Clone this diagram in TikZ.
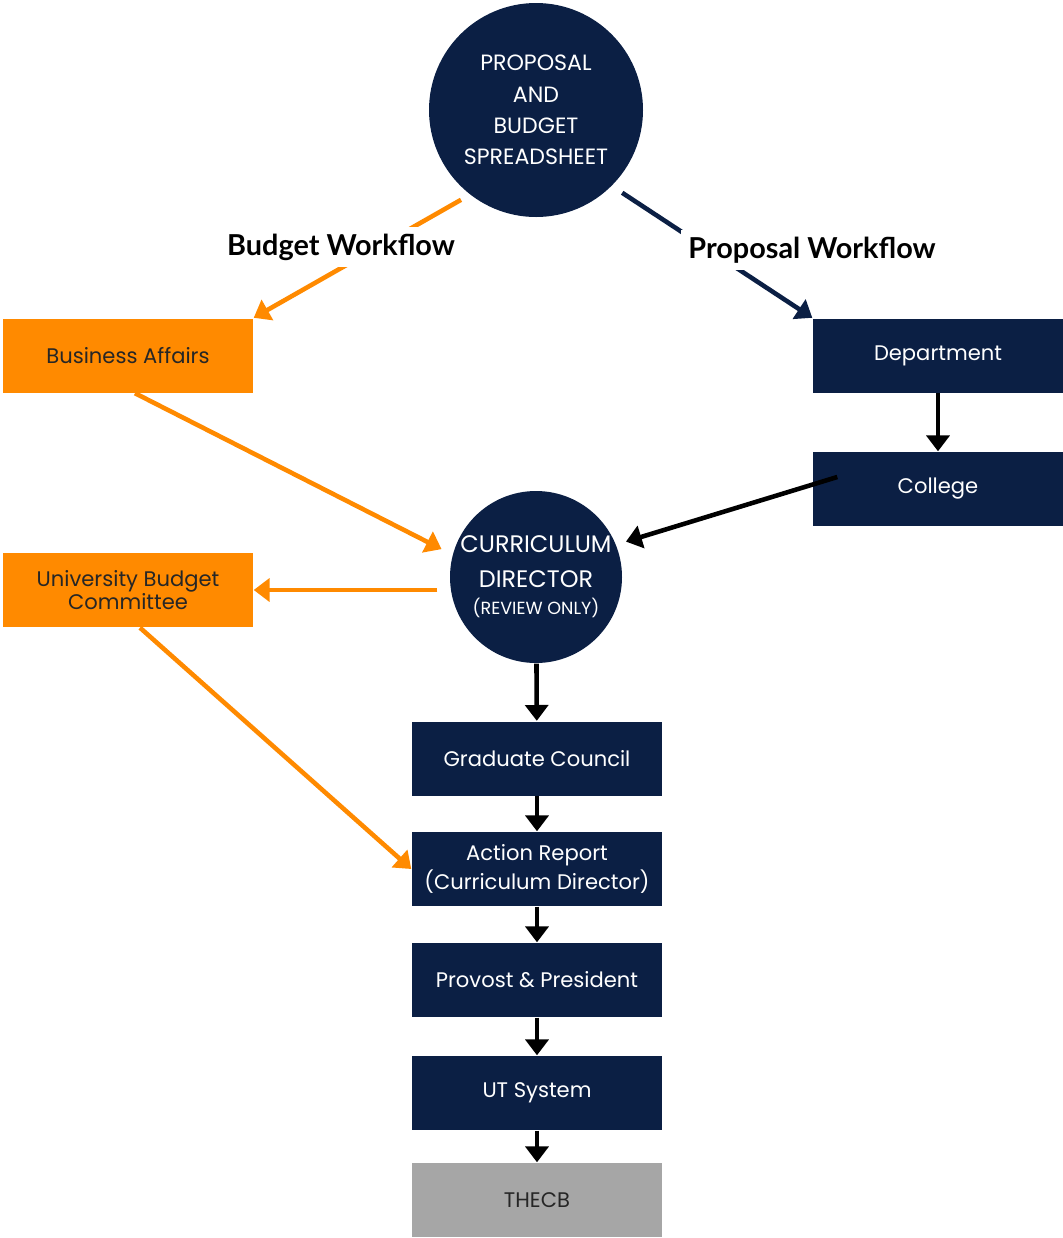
\documentclass[tikz,border=0pt]{standalone}
\usepackage{fontspec}
\setmainfont{Poppins}
\newfontfamily\headfont{Lato}
\usetikzlibrary{arrows.meta}
\definecolor{navy}{HTML}{0B1F44}
\definecolor{budgetorange}{HTML}{FF8A00}
\definecolor{thecbgray}{HTML}{A6A6A6}
\tikzset{
    stagebox/.style={fill=navy, text=white, minimum width=2.5cm, minimum height=0.74cm, inner sep=0pt, align=center, font=\fontsize{6}{6.6}\selectfont},
    budgetbox/.style={stagebox, fill=budgetorange, text=black!85},
    stagecirc/.style={circle, fill=navy, text=white, inner sep=0pt, align=center},
    flow/.style={line width=1.3pt, -{Triangle[length=4.5pt,width=6.5pt]}},
    budgetflow/.style={flow, budgetorange},
    workflowlbl/.style={fill=white, inner sep=2pt, font=\headfont\bfseries\fontsize{8.2}{10}\selectfont}
}
\begin{document}
\begin{tikzpicture}
    \useasboundingbox (0,0) rectangle (10.63,-12.38);
    % circles
    \node[stagecirc, minimum size=2.14cm, font=\fontsize{6.3}{8.9}\selectfont] (proposal) at (5.36,-1.10) {PROPOSAL\\AND\\BUDGET\\SPREADSHEET};
    \node[stagecirc, minimum size=1.72cm, font=\fontsize{6.8}{9.8}\selectfont] (curriculum) at (5.36,-5.77) {CURRICULUM\\DIRECTOR\\[-2pt]{\fontsize{5}{6}\selectfont (REVIEW ONLY)}};
    % boxes
    \node[budgetbox] (business) at (1.28,-3.555) {Business Affairs};
    \node[budgetbox] (ubc) at (1.28,-5.90) {University Budget\\Committee};
    \node[stagebox] (department) at (9.38,-3.555) {Department};
    \node[stagebox] (college) at (9.38,-4.89) {College};
    \node[stagebox] (grad) at (5.37,-7.585) {Graduate Council};
    \node[stagebox] (action) at (5.37,-8.69) {Action Report\\(Curriculum Director)};
    \node[stagebox] (provost) at (5.37,-9.80) {Provost \& President};
    \node[stagebox] (utsys) at (5.37,-10.93) {UT System};
    \node[stagebox, fill=thecbgray, text=black!85] (thecb) at (5.37,-12.0) {THECB};
    % budget workflow
    \draw[budgetflow, shorten <=0.1cm] (proposal.232) -- (business.north east);
    \node[workflowlbl] (budgetlbl) at (3.41,-2.47) {Budget Workflow};
    \draw[budgetflow, shorten >=0.12cm] ([xshift=0.07cm]business.south) -- (curriculum.165);
    \draw[budgetflow, shorten <=0.12cm] (curriculum.west |- ubc.east) -- (ubc.east);
    \draw[budgetflow] ([xshift=0.12cm]ubc.south) -- (action.west);
    % proposal workflow
    \draw[flow, navy, shorten <=0.12cm] (proposal.315) -- (department.north west);
    \node[workflowlbl] (proposallbl) at (8.12,-2.50) {Proposal Workflow};
    \draw[flow] (department) -- (college);
    \draw[flow, shorten >=0.1cm] ([xshift=0.25cm,yshift=0.12cm]college.west) -- (curriculum.22);
    \draw[flow] (curriculum) -- (grad);
    \draw[flow] (grad) -- (action);
    \draw[flow] (action) -- (provost);
    \draw[flow] (provost) -- (utsys);
    \draw[flow] (utsys) -- (thecb);
\end{tikzpicture}
\end{document}
